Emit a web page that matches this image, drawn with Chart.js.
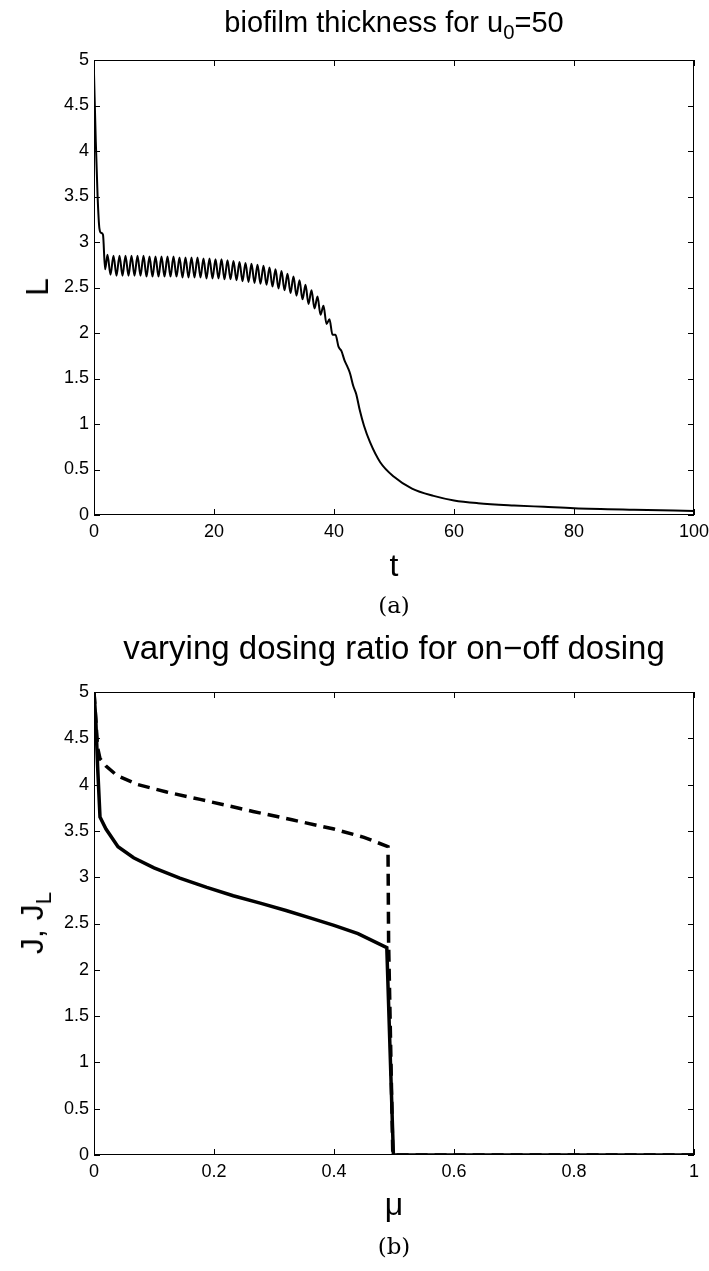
<!DOCTYPE html>
<html>
<head>
<meta charset="utf-8">
<script src="https://cdn.jsdelivr.net/npm/chart.js@4"></script>
<style>
  body { margin: 0; background: #fff; width: 709px; height: 1271px; position: relative; overflow: hidden;
         font-family: "Liberation Sans", Arial, sans-serif; color: #000; }
  canvas { position: absolute; left: 0; }
  .lbl { position: absolute; white-space: nowrap; line-height: 1; transform: translate(-50%, -50%); }
  .rot { transform: translate(-50%, -50%) rotate(-90deg); }
  .cap { font-family: "DejaVu Serif", "Liberation Serif", serif; font-size: 23px; }
  sub { font-size: 70%; vertical-align: -0.35em; line-height: 0; }
</style>
</head>
<body>
<canvas id="thickness" width="709" height="560" style="top:0"></canvas>
<canvas id="dosing" width="709" height="580" style="top:620px"></canvas>

<div class="lbl" style="left:394px;top:22px;font-size:29px">biofilm thickness for u<sub>0</sub>=50</div>
<div class="lbl rot" style="left:37px;top:287px;font-size:32px">L</div>
<div class="lbl" style="left:394px;top:565px;font-size:32px">t</div>
<div class="lbl cap" style="left:394px;top:605px">(a)</div>

<div class="lbl" style="left:394px;top:647px;font-size:33px">varying dosing ratio for on−off dosing</div>
<div class="lbl rot" style="left:32px;top:923px;font-size:32px">J, J<sub>L</sub></div>
<div class="lbl" style="left:394px;top:1204px;font-size:32px">μ</div>
<div class="lbl cap" style="left:394px;top:1246px">(b)</div>

<script>
// (a) biofilm thickness L(t)
const tTop = [0, 0.3, 0.6, 0.9, 1.2, 1.5, 1.85,
  2.25, 2.75, 3.25, 3.75, 4.25, 4.75, 5.25, 5.75, 6.25, 6.75, 7.25, 7.75, 8.25, 8.75, 9.25, 9.75,
  10.25, 10.75, 11.25, 11.75, 12.25, 12.75, 13.25, 13.75, 14.25, 14.75, 15.25, 15.75, 16.25, 16.75,
  17.25, 17.75, 18.25, 18.75, 19.25, 19.75, 20.25, 20.75, 21.25, 21.75, 22.25, 22.75, 23.25, 23.75,
  24.25, 24.75, 25.25, 25.75, 26.25, 26.75, 27.25, 27.75, 28.25, 28.75, 29.25, 29.75, 30.25, 30.75,
  31.25, 31.75, 32.25, 32.75, 33.25, 33.75, 34.25, 34.75, 35.25, 35.75, 36.25, 36.75, 37.25, 37.75,
  38.25, 38.75, 39.25, 39.75, 40.25, 40.75, 41.25, 41.75,
  42.3, 42.7, 43.2, 43.7, 44.3, 45, 46, 47.7, 50, 53, 56.6, 60, 64, 70, 75, 80, 90, 100];
const LTop = [4.85, 4.1, 3.5, 3.15, 3.1, 3.08, 2.7,
  2.86, 2.64, 2.85, 2.63, 2.85, 2.63, 2.85, 2.63, 2.85, 2.63, 2.85, 2.63, 2.85, 2.62, 2.84, 2.62,
  2.84, 2.62, 2.84, 2.62, 2.84, 2.62, 2.84, 2.62, 2.83, 2.61, 2.83, 2.61, 2.83, 2.61,
  2.83, 2.61, 2.82, 2.60, 2.82, 2.60, 2.81, 2.60, 2.81, 2.59, 2.80, 2.59, 2.79, 2.58,
  2.78, 2.57, 2.77, 2.56, 2.76, 2.55, 2.75, 2.54, 2.74, 2.53, 2.72, 2.51, 2.70, 2.49,
  2.68, 2.47, 2.65, 2.44, 2.62, 2.41, 2.58, 2.37, 2.53, 2.32, 2.47, 2.27, 2.40, 2.20,
  2.30, 2.10, 2.15, 1.98, 1.98, 1.85, 1.80, 1.70,
  1.62, 1.55, 1.42, 1.33, 1.15, 0.98, 0.80, 0.58, 0.42, 0.29, 0.21, 0.16, 0.13, 0.105, 0.09, 0.075, 0.058, 0.045];

// (b) dosing ratio mu: J (solid) and J_L (dashed)
const muJ = [0, 0.003, 0.006, 0.01, 0.02, 0.04, 0.066, 0.1, 0.143, 0.188, 0.232, 0.277, 0.32, 0.36, 0.4, 0.44, 0.488, 0.499, 0.6, 0.8, 1];
const J   = [5.0, 4.7, 4.2, 3.65, 3.52, 3.33, 3.21, 3.10, 2.99, 2.89, 2.80, 2.72, 2.64, 2.56, 2.48, 2.39, 2.24, 0, 0, 0, 0];
const muJL = [0, 0.003, 0.006, 0.01, 0.02, 0.038, 0.073, 0.121, 0.177, 0.265, 0.33, 0.4, 0.45, 0.49, 0.491, 0.498, 0.6, 0.8, 1];
const JL   = [5.0, 4.7, 4.4, 4.28, 4.2, 4.10, 4.0, 3.92, 3.84, 3.71, 3.62, 3.52, 3.43, 3.33, 2.3, 0, 0, 0, 0];

const xTicksTop = [0, 20, 40, 60, 80, 100];
const xTicksBottom = [0, 0.2, 0.4, 0.6, 0.8, 1];
const yTicks = [0, 0.5, 1, 1.5, 2, 2.5, 3, 3.5, 4, 4.5, 5];

const tickFont = { family: 'Liberation Sans', size: 18 };

// matlab style box with inward ticks on all four sides
const matlabAxes = {
  id: 'matlabAxes',
  beforeDatasetsDraw(chart) {
    const { ctx, chartArea: a, scales: { x, y } } = chart;
    ctx.save();
    ctx.strokeStyle = '#000';
    ctx.lineWidth = 1;
    ctx.strokeRect(a.left + 0.5, a.top + 0.5, a.right - a.left - 1, a.bottom - a.top - 1);
    ctx.beginPath();
    x.ticks.forEach(t => {
      const px = Math.round(x.getPixelForValue(t.value)) + 0.5;
      ctx.moveTo(px, a.bottom); ctx.lineTo(px, a.bottom - 6);
      ctx.moveTo(px, a.top); ctx.lineTo(px, a.top + 6);
    });
    y.ticks.forEach(t => {
      const py = Math.round(y.getPixelForValue(t.value)) + 0.5;
      ctx.moveTo(a.left, py); ctx.lineTo(a.left + 6, py);
      ctx.moveTo(a.right, py); ctx.lineTo(a.right - 6, py);
    });
    ctx.stroke();
    ctx.restore();
  }
};

function makeOptions(xMax, xTicks, padTop) {
  return {
    responsive: false,
    animation: false,
    events: [],
    layout: { padding: { top: padTop, right: 15, left: 0, bottom: 0 } },
    plugins: { legend: { display: false }, tooltip: { enabled: false } },
    scales: {
      x: {
        type: 'linear', min: 0, max: xMax,
        grid: { display: false, drawTicks: false }, border: { display: false },
        ticks: { font: tickFont, color: '#000', padding: 6, maxRotation: 0, callback: v => String(v) },
        afterBuildTicks: s => { s.ticks = xTicks.map(v => ({ value: v })); },
        afterFit: s => { s.height = 45; s.paddingLeft = 0; s.paddingRight = 0; }
      },
      y: {
        type: 'linear', min: 0, max: 5,
        grid: { display: false, drawTicks: false }, border: { display: false },
        ticks: { font: tickFont, color: '#000', padding: 5, callback: v => String(v) },
        afterBuildTicks: s => { s.ticks = yTicks.map(v => ({ value: v })); },
        afterFit: s => { s.width = 94; s.paddingTop = 0; s.paddingBottom = 0; }
      }
    }
  };
}

new Chart(document.getElementById('thickness'), {
  type: 'line',
  data: {
    datasets: [{
      data: tTop.map((t, i) => ({ x: t, y: LTop[i] })),
      borderColor: '#000', borderWidth: 2, pointRadius: 0,
      cubicInterpolationMode: 'monotone'
    }]
  },
  options: makeOptions(100, xTicksTop, 60),
  plugins: [matlabAxes]
});

new Chart(document.getElementById('dosing'), {
  type: 'line',
  data: {
    datasets: [{
      data: muJ.map((m, i) => ({ x: m, y: J[i] })),
      borderColor: '#000', borderWidth: 3.5, pointRadius: 0, tension: 0
    }, {
      data: muJL.map((m, i) => ({ x: m, y: JL[i] })),
      borderColor: '#000', borderWidth: 3.5, pointRadius: 0, tension: 0,
      borderDash: [12, 7]
    }]
  },
  options: makeOptions(1, xTicksBottom, 72),
  plugins: [matlabAxes]
});
</script>
</body>
</html>
